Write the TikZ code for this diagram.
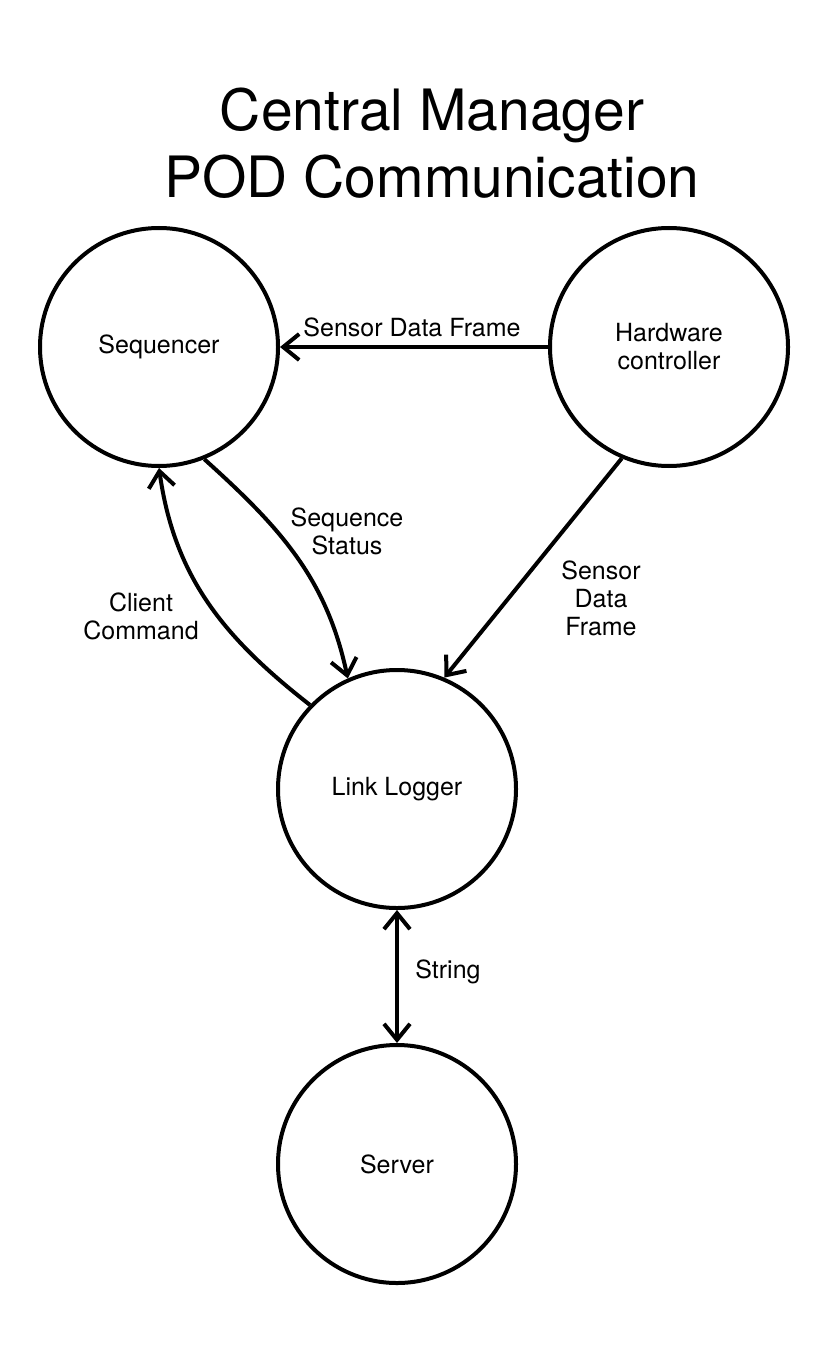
\documentclass[tikz,border=0pt]{standalone}
\usepackage{fontspec}
\setmainfont{TeX Gyre Heros}
\usepackage{tikz}
\usetikzlibrary{arrows.meta}

\tikzset{
    proc/.style={draw, circle, line width=2pt, minimum size=119pt, inner sep=0pt, align=center, font=\fontsize{12.5}{14}\selectfont},
    lbl/.style={align=center, font=\fontsize{12.5}{14}\selectfont},
    barb/.tip={Straight Barb[length=8pt, width=13pt, line width=2pt]},
    flow/.style={line width=2pt, -barb},
}

\begin{document}
\begin{tikzpicture}[x=0.5pt, y=-0.5pt]
        \useasboundingbox (0, 0) rectangle (833, 1358);

        \node[align=center, font=\fontsize{28.5}{33.5}\selectfont] at (432, 143) (T) {Central Manager\\POD Communication};

        \node[proc] at (159, 347) (S) {Sequencer};
        \node[proc] at (669, 347) (H) {Hardware\\controller};
        \node[proc] at (397, 789) (L) {Link Logger};
        \node[proc] at (397, 1164) (V) {Server};

        \draw[flow] (H) -- (S);
        \draw[flow] (S.-68) to[out=-42, in=102] (L.114);
        \draw[flow] (L.136) to[out=142, in=-82] (S.-90);
        \draw[flow] (H.-113) -- (L.67);
        \draw[flow, barb-barb] (L) -- (V);

        \node[lbl] at (412, 327) (l1) {Sensor Data Frame};
        \node[lbl] at (347, 531) (l2) {Sequence\\Status};
        \node[lbl] at (141, 616) (l3) {Client\\Command};
        \node[lbl] at (601, 598) (l4) {Sensor\\Data\\Frame};
        \node[lbl] at (448, 972) (l5) {String};
    \end{tikzpicture}
\end{document}
